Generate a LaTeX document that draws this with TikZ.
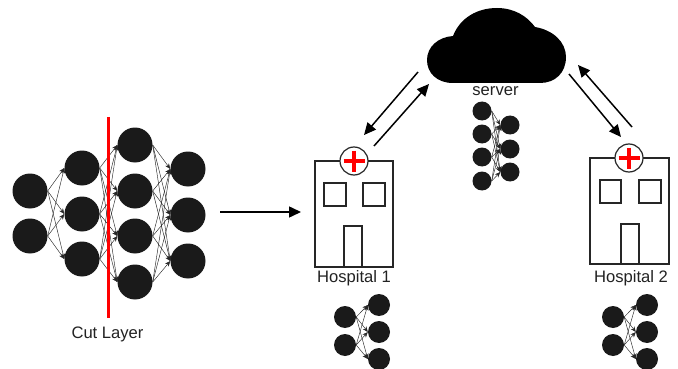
\documentclass[tikz,border=0pt]{standalone}
\usepackage{fontspec}
\setmainfont{Liberation Sans}
\usetikzlibrary{arrows.meta}
\definecolor{nodeblack}{HTML}{1A1A1A}
\definecolor{labelgray}{HTML}{222222}
\begin{document}
\begin{tikzpicture}[x=1pt,y=-1pt]
\tikzstyle{bigvertex}=[circle,fill=nodeblack,minimum size=35pt,inner sep=0pt]
\tikzstyle{midvertex}=[circle,fill=nodeblack,minimum size=22pt,inner sep=0pt]
\tikzstyle{smallvertex}=[circle,fill=nodeblack,minimum size=19pt,inner sep=0pt]
\tikzstyle{nnedge}=[draw=black!85,line width=0.45pt,-{Stealth[length=5.5pt,width=4.5pt]}]
\tikzstyle{flow}=[line width=1.5pt,-{Stealth[length=12pt,width=11pt,inset=0pt]}]
\tikzstyle{wall}=[draw=black!85,line width=1.2pt,inner sep=0pt]
\tikzstyle{label}=[text=labelgray,font=\fontsize{16.6}{18}\selectfont,inner sep=0pt]
\useasboundingbox (0,0) rectangle (678,369);
% big network
\foreach \name/\point in {
	a1/{30,191},
	a2/{30,236},
	b1/{82,168},
	b2/{82,214},
	b3/{82,259},
	c1/{135,145},
	c2/{135,191},
	c3/{135,236},
	c4/{135,282},
	d1/{188,169},
	d2/{188,215},
	d3/{188,261}}
 	\node[bigvertex] (\name) at (\point) {};
\foreach \from in {a1,a2}
	\foreach \to in {b1,b2,b3}
		\draw[nnedge] (\from.east) -- (\to.west);
\foreach \from in {b1,b2,b3}
	\foreach \to in {c1,c2,c3,c4}
		\draw[nnedge] (\from.east) -- (\to.west);
\foreach \from in {c1,c2,c3,c4}
	\foreach \to in {d1,d2,d3}
		\draw[nnedge] (\from.east) -- (\to.west);
\coordinate (cuttop) at (108.5,117);
\coordinate (cutbottom) at (108.5,318);
\draw[red,line width=2.4pt] (cuttop) -- (cutbottom);
\node[label] (cutlabel) at (107.5,334) {Cut Layer};
% cloud
\fill[black] (453,36) .. controls (460,18) and (477,8) .. (497,8)
	.. controls (514,8) and (527,16) .. (535,27)
	.. controls (553,30) and (566,42) .. (566,57)
	.. controls (566,73) and (555,83) .. (540,83)
	-- (453,83) .. controls (437,83) and (427,73) .. (427,60)
	.. controls (427,47) and (438,37) .. (453,36) -- cycle;
\node[label] (serverlabel) at (495.5,91) {server};
% server network
\foreach \name/\point in {
	s1/{482,111},
	s2/{482,134},
	s3/{482,157},
	s4/{482,181},
	t1/{510,125},
	t2/{510,149},
	t3/{510,172}}
 	\node[smallvertex] (\name) at (\point) {};
\foreach \from in {s1,s2,s3,s4}
	\foreach \to in {t1,t2,t3}
		\draw[nnedge] (\from.east) -- (\to.west);
% hospitals
\node[wall,minimum width=78pt,minimum height=106pt] (h1) at (354,214) {};
\node[wall,minimum width=22pt,minimum height=23pt] (h1w1) at (335,194.5) {};
\node[wall,minimum width=22pt,minimum height=23pt] (h1w2) at (374,194.5) {};
\node[wall,minimum width=18pt,minimum height=41pt] (h1d) at (353,246.5) {};
\node[wall,circle,fill=white,minimum size=28pt] (h1c) at (354,161) {};
\draw[red,line width=3.4pt] (343.5,161) -- (364.5,161) (354,150.5) -- (354,171.5);
\node[label] (h1label) at (354,278) {Hospital 1};
\node[wall,minimum width=79pt,minimum height=106pt] (h2) at (629.5,211) {};
\node[wall,minimum width=21pt,minimum height=23pt] (h2w1) at (610.5,191.5) {};
\node[wall,minimum width=22pt,minimum height=23pt] (h2w2) at (650,191.5) {};
\node[wall,minimum width=18pt,minimum height=40pt] (h2d) at (630,244) {};
\node[wall,circle,fill=white,minimum size=28pt] (h2c) at (629,158) {};
\draw[red,line width=3.4pt] (618.5,158) -- (639.5,158) (629,147.5) -- (629,168.5);
\node[label] (h2label) at (631,278) {Hospital 2};
% hospital networks
\foreach \name/\point in {
	p1/{345,317},
	p2/{345,345},
	q1/{379,305},
	q2/{379,332},
	q3/{379,359},
	u1/{613,317},
	u2/{613,345},
	v1/{647,305},
	v2/{647,332},
	v3/{647,359}}
 	\node[midvertex] (\name) at (\point) {};
\foreach \from in {p1,p2}
	\foreach \to in {q1,q2,q3}
		\draw[nnedge] (\from.east) -- (\to.west);
\foreach \from in {u1,u2}
	\foreach \to in {v1,v2,v3}
		\draw[nnedge] (\from.east) -- (\to.west);
% arrows
\foreach \name/\point in {
	m1/{220,212},
	m2/{301,212},
	e1/{418,72},
	e2/{364,135},
	e3/{374,146},
	e4/{429,84},
	e5/{569,74},
	e6/{621,137},
	e7/{632,127},
	e8/{578,65}}
 	\coordinate (\name) at (\point);
\draw[flow] (m1) -- (m2);
\draw[flow] (e1) -- (e2);
\draw[flow] (e3) -- (e4);
\draw[flow] (e5) -- (e6);
\draw[flow] (e7) -- (e8);
\end{tikzpicture}
\end{document}
